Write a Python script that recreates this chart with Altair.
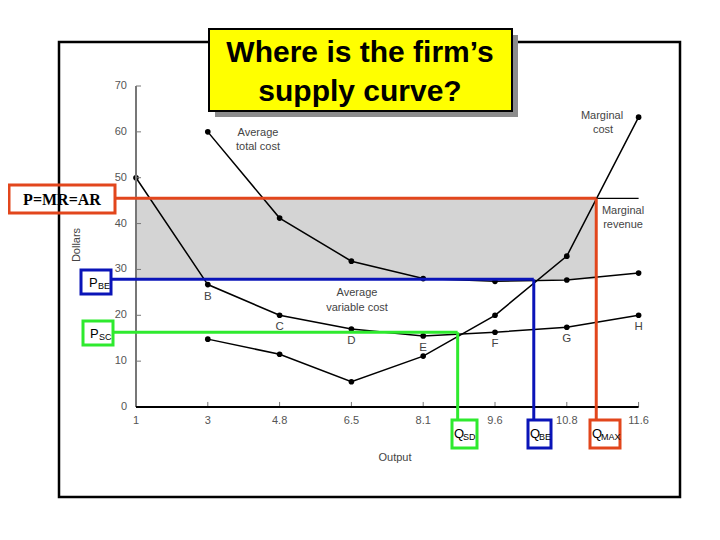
import altair as alt
import pandas as pd

# ---------------- data ----------------
outputs = ["1", "3", "4.8", "6.5", "8.1", "9.6", "10.8", "11.6"]
avc = [50.0, 26.7, 20.0, 17.0, 15.5, 16.3, 17.4, 20.0]
atc = [None, 60.0, 41.2, 31.8, 28.0, 27.4, 27.7, 29.2]
mc = [None, 14.8, 11.5, 5.5, 11.1, 20.0, 32.9, 63.2]
point_letters = ["", "B", "C", "D", "E", "F", "G", "H"]
y_ticks = [0, 10, 20, 30, 40, 50, 60, 70]

mr_price = 45.5
p_be = 27.85
p_sc = 16.3
q_sd = 4.48
q_be = 5.54
q_max = 6.41

# ---------------- geometry ----------------
W, H = 704, 524
X_UNIT = 71.8      # px per output step
Y_UNIT = 4.5857    # px per dollar
X0_PX = 128        # plot-px of first output
Y0_PX = 399        # plot-px of $0
x_dom = [-X0_PX / X_UNIT, (W - X0_PX) / X_UNIT]
y_dom = [-(H - Y0_PX) / Y_UNIT, Y0_PX / Y_UNIT]


def px2x(sx):
    return (sx - 8 - X0_PX) / X_UNIT


def py2y(sy):
    return (Y0_PX - (sy - 8)) / Y_UNIT


xs = alt.Scale(domain=x_dom, nice=False, zero=False)
ys = alt.Scale(domain=y_dom, nice=False, zero=False)
FONT = "Liberation Sans"
one = pd.DataFrame({"a": [0]})


def XQ(f):
    return alt.X(f, type="quantitative", scale=xs, axis=None)


def YQ(f):
    return alt.Y(f, type="quantitative", scale=ys, axis=None)


def segs(rows, color, width, cap="butt"):
    df = pd.DataFrame(rows, columns=["x", "y", "x2", "y2"])
    return alt.Chart(df).mark_rule(color=color, strokeWidth=width, strokeCap=cap).encode(
        x=XQ("x"), y=YQ("y"), x2="x2", y2="y2")


def pxrect(x, y, x2, y2, **kw):
    return alt.Chart(one).mark_rect(**kw).encode(
        x=alt.value(x - 8), x2=alt.value(x2 - 8), y=alt.value(y - 8), y2=alt.value(y2 - 8))


def pxtext(txt, x, y, **kw):
    return alt.Chart(one).mark_text(text=txt, **kw).encode(
        x=alt.value(x - 8), y=alt.value(y - 8))


layers = []

# outer frame
layers.append(pxrect(59, 42, 680, 497, fillOpacity=0, stroke="black", strokeWidth=2.5))

# shaded band
band = pd.DataFrame({"x": [0], "x2": [q_max], "y": [p_be], "y2": [mr_price]})
layers.append(alt.Chart(band).mark_rect(color="#d4d4d4").encode(
    x=XQ("x"), x2="x2", y=YQ("y"), y2="y2"))

# curves
rows = []
for name, vals in [("AVC", avc), ("ATC", atc), ("MC", mc)]:
    for i, v in enumerate(vals):
        if v is not None:
            rows.append({"curve": name, "i": i, "v": v})
cdf = pd.DataFrame(rows)
layers.append(alt.Chart(cdf).mark_line(color="black", strokeWidth=1.5).encode(
    x=XQ("i"), y=YQ("v"), detail="curve:N", order="i:Q"))
layers.append(alt.Chart(cdf).mark_circle(color="black", size=32, opacity=1).encode(
    x=XQ("i"), y=YQ("v")))

# marginal revenue (black part)
layers.append(segs([(q_max, mr_price, len(outputs) - 1, mr_price)], "black", 1.4))

# axes
layers.append(segs([(0, 0, 0, y_ticks[-1])], "#777777", 2))
layers.append(segs([(0, t, 0.07, t) for t in y_ticks], "#777777", 1))
layers.append(segs([(i, 0, i, 1.1) for i in range(len(outputs))], "#777777", 1))
layers.append(segs([(0, 0, len(outputs) - 1, 0)], "black", 2))

ytl = pd.DataFrame({"v": y_ticks, "lab": [str(t) for t in y_ticks], "x": px2x(127)})
layers.append(alt.Chart(ytl).mark_text(align="right", baseline="middle", font=FONT,
                                       fontSize=11, color="#555555").encode(
    x=XQ("x"), y=YQ("v"), text="lab:N"))
xtl = pd.DataFrame({"i": list(range(len(outputs))), "lab": outputs, "y": py2y(421)})
layers.append(alt.Chart(xtl).mark_text(align="center", baseline="middle", font=FONT,
                                       fontSize=11, color="#555555").encode(
    x=XQ("i"), y=YQ("y"), text="lab:N"))

# point letters
pl = pd.DataFrame({"i": list(range(len(outputs))), "v": avc, "lab": point_letters})
pl = pl[pl["lab"] != ""]
layers.append(alt.Chart(pl).mark_text(align="center", baseline="middle", dy=12, font=FONT,
                                      fontSize=11.5, color="#444444").encode(
    x=XQ("i"), y=YQ("v"), text="lab:N"))

# axis titles & curve labels
txt_kw = dict(font=FONT, fontSize=11, color="#444444", align="center", baseline="middle")
layers.append(pxtext("Dollars", 77, 245, angle=270, **txt_kw))
layers.append(pxtext("Output", 395, 458, **txt_kw))
for t, x, y in [("Average", 258, 133), ("total cost", 258, 147),
                ("Marginal", 602, 116), ("cost", 603, 130),
                ("Marginal", 623, 211), ("revenue", 623, 225),
                ("Average", 357, 293), ("variable cost", 357, 308)]:
    layers.append(pxtext(t, x, y, **txt_kw))

# coloured guides
RED, BLUE, GREEN = "#E2461C", "#0A14B8", "#2EEA2E"
layers.append(segs([(px2x(115), mr_price, q_max, mr_price),
                    (q_max, mr_price, q_max, py2y(420))], RED, 3))
layers.append(segs([(px2x(111), p_be, q_be, p_be),
                    (q_be, p_be, q_be, py2y(419))], BLUE, 3))
layers.append(segs([(px2x(113), p_sc, q_sd, p_sc),
                    (q_sd, p_sc, q_sd, py2y(419))], GREEN, 3))

# label boxes
layers.append(pxrect(9, 185, 115, 213, fillOpacity=0, stroke=RED, strokeWidth=3))
layers.append(pxtext("P=MR=AR", 62, 200, font="Liberation Serif", fontSize=16,
                     fontWeight="bold", color="black", align="center", baseline="middle"))
layers.append(pxrect(81, 270, 111, 294, fillOpacity=0, stroke=BLUE, strokeWidth=3))
layers.append(pxrect(83, 321, 113, 345, fillOpacity=0, stroke=GREEN, strokeWidth=3))
layers.append(pxrect(452, 420, 477, 448, fillOpacity=0, stroke=GREEN, strokeWidth=3))
layers.append(pxrect(528, 420, 551, 448, fillOpacity=0, stroke=BLUE, strokeWidth=3))
layers.append(pxrect(590, 420, 620, 448, fillOpacity=0, stroke=RED, strokeWidth=3))

main_kw = dict(font=FONT, fontSize=13, color="black", align="left", baseline="alphabetic")
sub_kw = dict(font=FONT, fontSize=9, color="black", align="left", baseline="alphabetic")
for main, sub, x, y in [("P", "BE", 89, 287), ("P", "SC", 90, 338),
                        ("Q", "SD", 454, 438), ("Q", "BE", 530, 438), ("Q", "MAX", 592, 438)]:
    layers.append(pxtext(main, x, y, **main_kw))
    layers.append(pxtext(sub, x + 9, y + 2, **sub_kw))

# title box
layers.append(pxrect(215, 35, 518, 117, color="#8c8c8c"))
layers.append(pxrect(209, 29, 512, 111, fill="#FFFF00", stroke="black", strokeWidth=2))
title_kw = dict(font=FONT, fontSize=30, fontWeight="bold", color="black",
                align="center", baseline="alphabetic")
layers.append(pxtext("Where is the firm\u2019s", 360, 62, **title_kw))
layers.append(pxtext("supply curve?", 360, 101, **title_kw))

chart = alt.layer(*layers).properties(
    width=W, height=H, autosize="none", padding=0, background="white"
).configure_view(stroke=None)

chart.save("out.html", embed_options={"renderer": "svg", "actions": False})
